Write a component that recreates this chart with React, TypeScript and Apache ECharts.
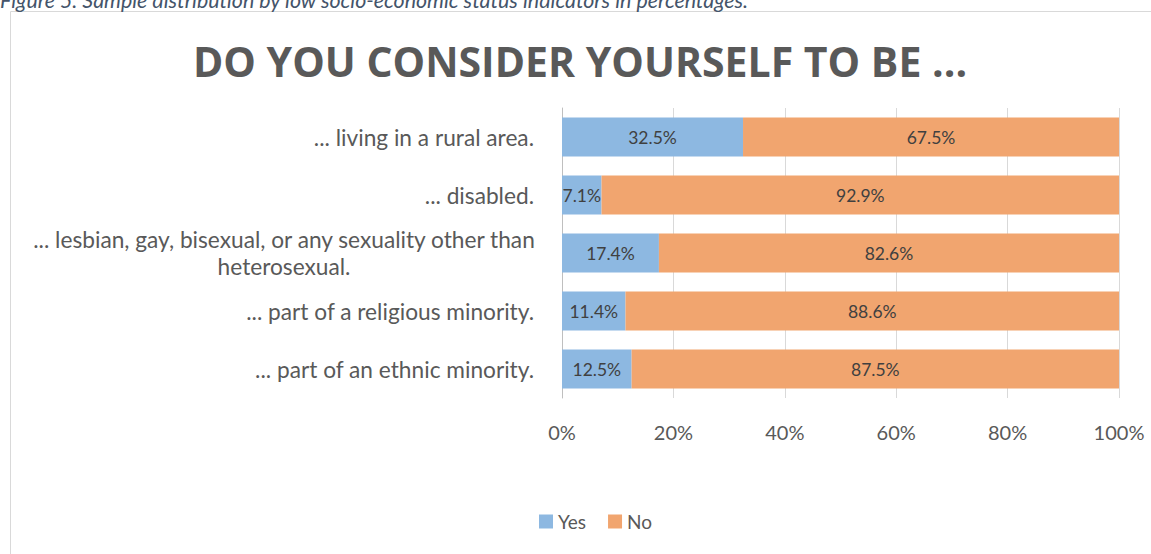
import React, { useEffect, useRef } from "react";
import * as echarts from "echarts";

const categories = [
  "... living in a rural area.",
  "... disabled.",
  "... lesbian, gay, bisexual, or any sexuality other than\nheterosexual.",
  "... part of a religious minority.",
  "... part of an ethnic minority.",
];
const yesValues = [32.5, 7.1, 17.4, 11.4, 12.5];
const noValues = [67.5, 92.9, 82.6, 88.6, 87.5];
const seriesNames = ["Yes", "No"];
const titleText = "DO YOU CONSIDER YOURSELF TO BE ...";
const captionText =
  "Figure 5. Sample distribution by low socio-economic status indicators in percentages.";

export default function App() {
  const ref = useRef<HTMLDivElement>(null);
  useEffect(() => {
    if (!ref.current) return;
    const chart = echarts.init(ref.current, undefined, { renderer: "svg" });
    const font = "Lato";
    const labelSize = 22.7;
    const labelFmt = (v: string) => {
      if (v.indexOf("\n") >= 0) {
        const parts = v.split("\n");
        return parts.map((p) => `{c|${p}}`).join("\n");
      }
      return v;
    };
    const dataLabel = {
      show: true,
      position: "inside",
      formatter: (p: any) => `${p.value.toFixed(1)}%`,
      fontSize: 17.5,
      color: "#404040",
      fontFamily: font,
    };
    chart.setOption({
      animation: false,
      backgroundColor: "#ffffff",
      textStyle: { fontFamily: font },
      title: {
        text: titleText,
        left: 575,
        textAlign: "center",
        top: 35,
        textStyle: {
          fontFamily: "Open Sans",
          fontWeight: "bold",
          fontSize: 41,
          color: "#595959",
        },
      },
      graphic: [
        {
          type: "rect",
          shape: { x: 10.5, y: 11.5, width: 1300, height: 700 },
          style: { fill: "none", stroke: "#D9D9D9", lineWidth: 1 },
          silent: true,
        },
        {
          type: "text",
          x: 0,
          y: -11,
          style: {
            text: captionText,
            font: "italic 21.4px Lato",
            fill: "#44546A",
          },
        },
      ],
      legend: {
        data: seriesNames,
        bottom: 18,
        left: 534,
        itemWidth: 14,
        itemHeight: 14,
        itemGap: 22,
        icon: "rect",
        textStyle: { fontSize: 19, color: "#595959", fontFamily: font },
      },
      grid: { left: 562, right: 32, top: 108, bottom: 156 },
      xAxis: {
        type: "value",
        min: 0,
        max: 100,
        interval: 20,
        axisLabel: {
          formatter: "{value}%",
          fontSize: 20,
          color: "#595959",
          margin: 24,
          fontFamily: font,
        },
        axisLine: { show: false },
        axisTick: { show: false },
        splitLine: { lineStyle: { color: "#D9D9D9", width: 1 } },
      },
      yAxis: {
        type: "category",
        data: categories,
        inverse: true,
        axisLine: { show: true, lineStyle: { color: "#BFBFBF", width: 1 } },
        axisTick: { show: false },
        axisLabel: {
          fontSize: labelSize,
          color: "#595959",
          margin: 28,
          fontFamily: font,
          lineHeight: 27,
          formatter: labelFmt,
          rich: {
            c: {
              fontSize: labelSize,
              color: "#595959",
              fontFamily: font,
              width: 500,
              align: "center",
              lineHeight: 27,
            },
          },
        },
      },
      series: [
        {
          name: seriesNames[0],
          type: "bar",
          stack: "total",
          data: yesValues,
          barWidth: 39,
          itemStyle: { color: "#8DB8E1" },
          label: dataLabel,
        },
        {
          name: seriesNames[1],
          type: "bar",
          stack: "total",
          data: noValues,
          barWidth: 39,
          itemStyle: { color: "#F1A56F" },
          label: dataLabel,
        },
      ],
    });
    return () => chart.dispose();
  }, []);
  return (
    <div
      ref={ref}
      style={{ position: "absolute", left: 0, top: 0, width: 1151, height: 554 }}
    />
  );
}
